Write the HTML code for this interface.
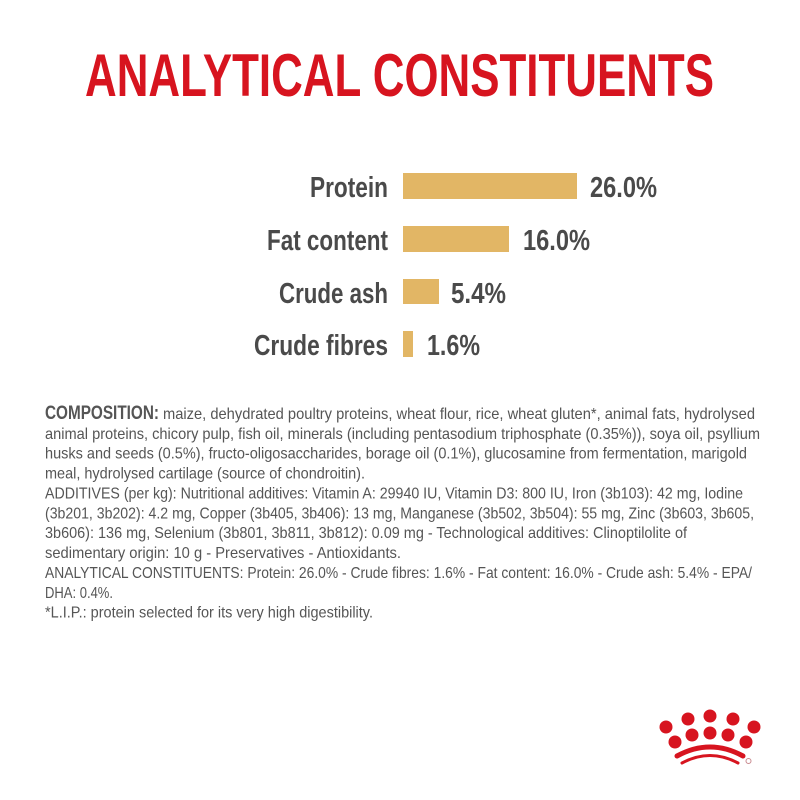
<!DOCTYPE html>
<html><head><meta charset="utf-8"><style>
html,body{margin:0;padding:0;background:#fff;}
svg{display:block;}
</style></head><body>
<svg width="800" height="800" viewBox="0 0 800 800" xmlns="http://www.w3.org/2000/svg">
<rect width="800" height="800" fill="#fff"/>
<text x="85" y="96" font-family="Liberation Sans, sans-serif" font-weight="bold" font-size="60" fill="#d7141f" textLength="629" lengthAdjust="spacingAndGlyphs">ANALYTICAL CONSTITUENTS</text>

<g font-family="Liberation Sans, sans-serif" font-weight="bold" font-size="29" fill="#4a4a4a">
<text x="310" y="197" textLength="78" lengthAdjust="spacingAndGlyphs">Protein</text>
<text x="267" y="250" textLength="121" lengthAdjust="spacingAndGlyphs">Fat content</text>
<text x="279" y="303" textLength="109" lengthAdjust="spacingAndGlyphs">Crude ash</text>
<text x="254" y="355" textLength="134" lengthAdjust="spacingAndGlyphs">Crude fibres</text>
<text x="590" y="197" textLength="67" lengthAdjust="spacingAndGlyphs">26.0%</text>
<text x="523" y="250" textLength="67" lengthAdjust="spacingAndGlyphs">16.0%</text>
<text x="451" y="303" textLength="55" lengthAdjust="spacingAndGlyphs">5.4%</text>
<text x="427" y="355" textLength="53" lengthAdjust="spacingAndGlyphs">1.6%</text>
</g>
<g fill="#e2b665">
<rect x="403" y="173" width="174" height="26"/>
<rect x="403" y="226" width="106" height="26"/>
<rect x="403" y="279" width="36" height="25"/>
<rect x="403" y="331" width="10" height="26"/>
</g>

<g font-family="Liberation Sans, sans-serif" font-size="16" fill="#555">
<text x="45" y="419" font-weight="bold" font-size="19" textLength="114" lengthAdjust="spacingAndGlyphs">COMPOSITION:</text>
<text x="163" y="419" textLength="592" lengthAdjust="spacingAndGlyphs">maize, dehydrated poultry proteins, wheat flour, rice, wheat gluten*, animal fats, hydrolysed</text>
<text x="45" y="438.9" textLength="715" lengthAdjust="spacingAndGlyphs">animal proteins, chicory pulp, fish oil, minerals (including pentasodium triphosphate (0.35%)), soya oil, psyllium</text>
<text x="45" y="458.7" textLength="702" lengthAdjust="spacingAndGlyphs">husks and seeds (0.5%), fructo-oligosaccharides, borage oil (0.1%), glucosamine from fermentation, marigold</text>
<text x="45" y="478.6" textLength="320" lengthAdjust="spacingAndGlyphs">meal, hydrolysed cartilage (source of chondroitin).</text>
<text x="45" y="498.5" textLength="698" lengthAdjust="spacingAndGlyphs">ADDITIVES (per kg): Nutritional additives: Vitamin A: 29940 IU, Vitamin D3: 800 IU, Iron (3b103): 42 mg, Iodine</text>
<text x="45" y="518.4" textLength="709" lengthAdjust="spacingAndGlyphs">(3b201, 3b202): 4.2 mg, Copper (3b405, 3b406): 13 mg, Manganese (3b502, 3b504): 55 mg, Zinc (3b603, 3b605,</text>
<text x="45" y="538.2" textLength="642" lengthAdjust="spacingAndGlyphs">3b606): 136 mg, Selenium (3b801, 3b811, 3b812): 0.09 mg - Technological additives: Clinoptilolite of</text>
<text x="45" y="558.1" textLength="356" lengthAdjust="spacingAndGlyphs">sedimentary origin: 10 g - Preservatives - Antioxidants.</text>
<text x="45" y="578" textLength="707" lengthAdjust="spacingAndGlyphs">ANALYTICAL CONSTITUENTS: Protein: 26.0% - Crude fibres: 1.6% - Fat content: 16.0% - Crude ash: 5.4% - EPA/</text>
<text x="45" y="597.8" textLength="68" lengthAdjust="spacingAndGlyphs">DHA: 0.4%.</text>
<text x="45" y="617.7" textLength="328" lengthAdjust="spacingAndGlyphs">*L.I.P.: protein selected for its very high digestibility.</text>
</g>

<g fill="#d7141f">
<circle cx="666" cy="727" r="6.5"/>
<circle cx="688" cy="719" r="6.5"/>
<circle cx="710" cy="716" r="6.5"/>
<circle cx="733" cy="719" r="6.5"/>
<circle cx="754" cy="727" r="6.5"/>
<circle cx="675" cy="742" r="6.5"/>
<circle cx="692" cy="735" r="6.5"/>
<circle cx="710" cy="733" r="6.5"/>
<circle cx="728" cy="735" r="6.5"/>
<circle cx="746" cy="742" r="6.5"/>
</g>
<path d="M677 756 Q710 738 743 756" stroke="#d7141f" stroke-width="5" fill="none" stroke-linecap="round"/>
<path d="M682 763 Q710 748 738 763" stroke="#d7141f" stroke-width="3" fill="none" stroke-linecap="round"/>
<circle cx="748.5" cy="761" r="2.5" fill="none" stroke="#c98a8f" stroke-width="1"/>
</svg>
</body></html>
